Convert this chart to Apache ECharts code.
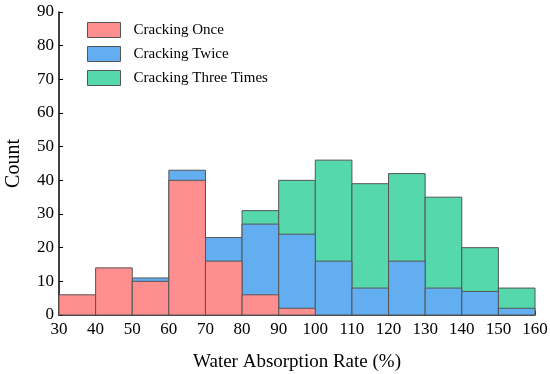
<!DOCTYPE html>
<html><head><meta charset="utf-8">
<script src="https://cdn.jsdelivr.net/npm/echarts@6/dist/echarts.min.js"></script>
<style>html,body{margin:0;padding:0;background:#fff}#c{width:550px;height:374px}</style>
</head><body><div id="c"></div>
<script>
var binStarts = [30,40,50,60,70,80,90,100,110,120,130,140,150];
var binWidth = 10;
var once =  [6,14,10,40,16,6,2,0,0,0,0,0,0];
var twice = [0,0,11,43,23,27,24,16,8,16,8,7,2];
var three = [0,0,0,0,0,31,40,46,39,42,35,20,8];
var names = ['Cracking Once','Cracking Twice','Cracking Three Times'];
var colors = ['#FF8F8F','#62AEF0','#55D9AC'];
var FONT = '"Liberation Serif","Times New Roman",serif';

function toData(vals){
  var d=[];
  for(var i=0;i<vals.length;i++){ if(vals[i]>0) d.push([binStarts[i], binStarts[i]+binWidth, vals[i]]); }
  return d;
}
function renderItem(params, api){
  var p0 = api.coord([api.value(0), api.value(2)]);
  var p1 = api.coord([api.value(1), 0]);
  return {type:'rect', shape:{x:p0[0], y:p0[1], width:p1[0]-p0[0], height:p1[1]-p0[1]},
    style:{fill:api.visual('color'), stroke:'#555', lineWidth:1}};
}
function mk(idx, vals){
  return {type:'custom', name:names[idx], renderItem:renderItem, data:toData(vals),
    encode:{x:[0,1], y:2}, itemStyle:{color:colors[idx], borderColor:'#555', borderWidth:1}, z:2};
}
var chart = echarts.init(document.getElementById('c'));
chart.setOption({
  animation:false,
  textStyle:{fontFamily:FONT},
  grid:{left:59, right:15, top:12, bottom:59, containLabel:false, outerBoundsMode:'none'},
  legend:{orient:'vertical', left:87, top:22, padding:0, itemWidth:33, itemHeight:15, itemGap:8,
    textStyle:{fontFamily:FONT, fontSize:15, color:'#000', padding:[0,0,0,8]},
    data:names.map(function(n,i){return {name:n, icon:'rect', itemStyle:{color:colors[i], borderColor:'#555', borderWidth:1}};})},
  xAxis:{type:'value', min:30, max:160, interval:10,
    name:'Water Absorption Rate (%)', nameLocation:'middle', nameGap:38,
    nameTextStyle:{fontFamily:FONT, fontSize:19, color:'#000'},
    axisLine:{lineStyle:{color:'#000', width:1.5}},
    axisTick:{inside:true, length:4, lineStyle:{color:'#000'}},
    axisLabel:{fontFamily:FONT, fontSize:17, color:'#000', margin:6},
    splitLine:{show:false}},
  yAxis:{type:'value', min:0, max:90, interval:10,
    name:'Count', nameLocation:'middle', nameGap:35,
    nameTextStyle:{fontFamily:FONT, fontSize:20, color:'#000'},
    axisLine:{show:true, lineStyle:{color:'#000', width:1.5}},
    axisTick:{show:true, inside:true, length:4, lineStyle:{color:'#000'}},
    axisLabel:{fontFamily:FONT, fontSize:17, color:'#000', margin:5},
    splitLine:{show:false}},
  series:[mk(2,three), mk(1,twice), mk(0,once)].map(function(s,i){s.z=2+i;return s;})
});
</script></body></html>
